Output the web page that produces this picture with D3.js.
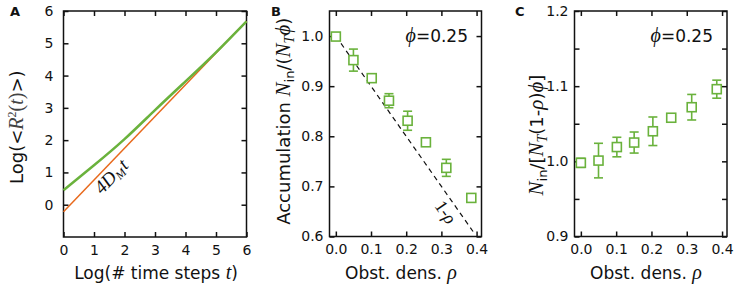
<!DOCTYPE html>
<html>
<head>
<meta charset="utf-8">
<script src="https://cdn.jsdelivr.net/npm/d3@7"></script>
<style>
  body { margin: 0; background: #fff; }
  text { font-family: "DejaVu Sans", sans-serif; fill: #111; }
  .math { font-family: "Liberation Serif", "DejaVu Serif", serif; font-style: italic; }
</style>
</head>
<body>
<div id="chart"></div>
<script>
const width = 737;
const height = 286;

// panel A: log-log mean squared displacement
const logSteps = [0, 1, 2, 3, 4, 5, 6];
const logMSD = [0.45, 1.22, 2.03, 2.93, 3.82, 4.72, 5.68];
const fitSteps = [0, 6];
const fitMSD = [-0.22, 5.68];

// panels B and C: obstacle density
const rho = [0, 0.05, 0.102, 0.151, 0.204, 0.256, 0.314, 0.385];
const accum = [0.999, 0.952, 0.916, 0.871, 0.831, 0.788, 0.737, 0.677];
const accumErr = [0.004, 0.022, 0.006, 0.014, 0.019, 0.005, 0.017, 0.006];
const normAcc = [0.998, 1.001, 1.019, 1.025, 1.040, 1.058, 1.072, 1.096];
const normErr = [0.006, 0.023, 0.013, 0.014, 0.019, 0.004, 0.017, 0.012];

const ticksA = [0, 1, 2, 3, 4, 5, 6];
const ticksRho = [0.0, 0.1, 0.2, 0.3, 0.4];
const ticksB = [0.6, 0.7, 0.8, 0.9, 1.0];
const ticksC = [0.9, 0.95, 1.0, 1.05, 1.1, 1.15, 1.2];
const labelsC = [0.9, 1.0, 1.1, 1.2];

const green = "#6ab23c";
const orange = "#e8691c";

const svg = d3.select("#chart")
    .append("svg")
    .attr("width", width)
    .attr("height", height);

// draws box with inward ticks on all sides
function frame(x, y, xticks, yticks, xfmt, yfmt, ypad) {
    const g = svg.append("g");
    const [x0, x1] = x.range();
    const [y0, y1] = y.range();
    g.append("g").attr("transform", `translate(0,${y0})`)
        .call(d3.axisBottom(x).tickValues(xticks).tickSize(-5).tickPadding(8).tickFormat(xfmt));
    g.append("g").attr("transform", `translate(0,${y1})`)
        .call(d3.axisTop(x).tickValues(xticks).tickSize(-5).tickFormat(""));
    g.append("g").attr("transform", `translate(${x0},0)`)
        .call(d3.axisLeft(y).tickValues(yticks).tickSize(-5).tickPadding(ypad).tickFormat(yfmt));
    g.append("g").attr("transform", `translate(${x1},0)`)
        .call(d3.axisRight(y).tickValues(yticks).tickSize(-5).tickFormat(""));
    g.selectAll(".domain").remove();
    g.selectAll(".tick line").attr("stroke", "#111").attr("stroke-width", 1.5);
    g.selectAll(".tick text").style("font-size", "14px").attr("fill", "#111");
    g.append("rect")
        .attr("x", x0).attr("y", y1)
        .attr("width", x1 - x0).attr("height", y0 - y1)
        .attr("fill", "none").attr("stroke", "#111").attr("stroke-width", 1.5);
    return g;
}

// ---------- Panel A ----------
const xA = d3.scaleLinear().domain([0, 6]).range([63.5, 246.5]);
const yA = d3.scaleLinear().domain([-1, 6]).range([237, 11]);
frame(xA, yA, ticksA, ticksA, d3.format("d"), d3.format("d"), 10);

const lineA = d3.line().x(d => xA(d[0])).y(d => yA(d[1]));
svg.append("path")
    .datum(d3.zip(fitSteps, fitMSD))
    .attr("d", lineA)
    .attr("fill", "none").attr("stroke", orange).attr("stroke-width", 1.5);
svg.append("path")
    .datum(d3.zip(logSteps, logMSD))
    .attr("d", lineA.curve(d3.curveNatural))
    .attr("fill", "none").attr("stroke", green).attr("stroke-width", 2.5);

const angA = Math.atan2(yA(fitMSD[1]) - yA(fitMSD[0]), xA(fitSteps[1]) - xA(fitSteps[0])) * 180 / Math.PI;
const fitLbl = svg.append("text")
    .attr("transform", `translate(102,195) rotate(${angA})`)
    .attr("class", "math").style("font-size", "19px").attr("fill", "#333");
fitLbl.append("tspan").text("4D");
fitLbl.append("tspan").attr("dy", 3).style("font-size", "12px").text("M");
fitLbl.append("tspan").attr("dy", -3).attr("dx", 1).text("t");

svg.append("text").attr("x", 10).attr("y", 16)
    .style("font-size", "13px").style("font-weight", "bold").text("A");

const titleA = svg.append("text")
    .attr("transform", `translate(23,${yA(2.4)}) rotate(-90)`)
    .attr("text-anchor", "middle").style("font-size", "18px");
titleA.append("tspan").text("Log(<");
titleA.append("tspan").attr("class", "math").attr("fill", "#444").style("font-size", "20px").text("R");
titleA.append("tspan").attr("class", "math").attr("fill", "#444").attr("dy", -7).style("font-size", "12px").style("font-style", "normal").text("2");
titleA.append("tspan").attr("class", "math").attr("fill", "#444").attr("dy", 7).style("font-size", "20px").style("font-style", "normal").text("(");
titleA.append("tspan").attr("class", "math").attr("fill", "#444").style("font-size", "20px").text("t");
titleA.append("tspan").attr("class", "math").attr("fill", "#444").style("font-size", "20px").style("font-style", "normal").text(")");
titleA.append("tspan").text(">)");

const xTitleA = svg.append("text")
    .attr("x", 156).attr("y", 279)
    .attr("text-anchor", "middle").style("font-size", "17px");
xTitleA.append("tspan").text("Log(# time steps ");
xTitleA.append("tspan").attr("class", "math").style("font-size", "20px").text("t");
xTitleA.append("tspan").text(")");

// ---------- Panel B ----------
const xB = d3.scaleLinear().domain([-0.018, 0.414]).range([329.5, 481.5]);
const yB = d3.scaleLinear().domain([0.6, 1.05]).range([236.5, 11]);
frame(xB, yB, ticksRho, ticksB, d3.format(".1f"), d3.format(".1f"), 6);

svg.append("line")
    .attr("x1", xB(0)).attr("y1", yB(1))
    .attr("x2", xB(0.39)).attr("y2", yB(0.61))
    .attr("stroke", "#111").attr("stroke-width", 1.2).attr("stroke-dasharray", "5,4");

const angB = Math.atan2(yB(0.61) - yB(1), xB(0.39) - xB(0)) * 180 / Math.PI;
const rhoLbl = svg.append("text")
    .attr("transform", `translate(434,206) rotate(${angB})`)
    .attr("class", "math").style("font-size", "18px").attr("fill", "#222");
rhoLbl.append("tspan").style("font-style", "normal").text("1-");
rhoLbl.append("tspan").text("ρ");

function markers(x, y, vals, errs) {
    const pts = svg.append("g").selectAll("g")
        .data(d3.zip(rho, vals, errs))
        .enter().append("g")
        .attr("stroke", green).attr("fill", "none").attr("stroke-width", 1.6);
    pts.append("line")
        .attr("x1", d => x(d[0])).attr("x2", d => x(d[0]))
        .attr("y1", d => y(d[1] - d[2])).attr("y2", d => y(d[1] + d[2]));
    pts.append("line")
        .attr("x1", d => x(d[0]) - 4.5).attr("x2", d => x(d[0]) + 4.5)
        .attr("y1", d => y(d[1] + d[2])).attr("y2", d => y(d[1] + d[2]));
    pts.append("line")
        .attr("x1", d => x(d[0]) - 4.5).attr("x2", d => x(d[0]) + 4.5)
        .attr("y1", d => y(d[1] - d[2])).attr("y2", d => y(d[1] - d[2]));
    pts.append("rect")
        .attr("x", d => x(d[0]) - 4.5).attr("y", d => y(d[1]) - 4.5)
        .attr("width", 9).attr("height", 9)
        .attr("fill", "#fff");
}
markers(xB, yB, accum, accumErr);

function phiLabel(xr) {
    const t = svg.append("text").attr("x", xr).attr("y", 42)
        .attr("text-anchor", "end").style("font-size", "17px");
    t.append("tspan").attr("class", "math").style("font-size", "20px").text("ϕ");
    t.append("tspan").text("=0.25");
}
phiLabel(468);

svg.append("text").attr("x", 271).attr("y", 16)
    .style("font-size", "13px").style("font-weight", "bold").text("B");

const titleB = svg.append("text")
    .attr("transform", `translate(290,${yB(0.83)}) rotate(-90)`)
    .attr("text-anchor", "middle").style("font-size", "18px");
titleB.append("tspan").text("Accumulation ");
titleB.append("tspan").attr("class", "math").style("font-size", "21px").text("N");
titleB.append("tspan").attr("dy", 4).style("font-size", "13px").text("in");
titleB.append("tspan").attr("dy", -4).text("/(");
titleB.append("tspan").attr("class", "math").style("font-size", "21px").text("N");
titleB.append("tspan").attr("class", "math").attr("dy", 4).style("font-size", "14px").text("T");
titleB.append("tspan").attr("class", "math").attr("dy", -4).style("font-size", "21px").text("ϕ");
titleB.append("tspan").text(")");

function rhoTitle(cx) {
    const t = svg.append("text").attr("x", cx).attr("y", 279)
        .attr("text-anchor", "middle").style("font-size", "17px");
    t.append("tspan").text("Obst. dens. ");
    t.append("tspan").attr("class", "math").style("font-size", "20px").text("ρ");
}
rhoTitle(401);

// ---------- Panel C ----------
const xC = d3.scaleLinear().domain([-0.018, 0.414]).range([574.5, 727]);
const yC = d3.scaleLinear().domain([0.9, 1.2]).range([236.5, 11]);
frame(xC, yC, ticksRho, ticksC, d3.format(".1f"),
    d => labelsC.some(v => Math.abs(v - d) < 1e-9) ? d3.format(".1f")(d) : "", 6);

markers(xC, yC, normAcc, normErr);
phiLabel(713);

svg.append("text").attr("x", 515).attr("y", 16)
    .style("font-size", "13px").style("font-weight", "bold").text("C");

const titleC = svg.append("text")
    .attr("transform", `translate(543,${yC(1.035)}) rotate(-90)`)
    .attr("text-anchor", "middle").style("font-size", "18px");
titleC.append("tspan").attr("class", "math").style("font-size", "21px").text("N");
titleC.append("tspan").attr("dy", 4).style("font-size", "13px").text("in");
titleC.append("tspan").attr("dy", -4).text("/[");
titleC.append("tspan").attr("class", "math").style("font-size", "21px").text("N");
titleC.append("tspan").attr("class", "math").attr("dy", 4).style("font-size", "14px").text("T");
titleC.append("tspan").attr("dy", -4).text("(1-");
titleC.append("tspan").attr("class", "math").style("font-size", "21px").text("ρ");
titleC.append("tspan").text(")");
titleC.append("tspan").attr("class", "math").style("font-size", "21px").text("ϕ");
titleC.append("tspan").text("]");

rhoTitle(646);
</script>
</body>
</html>
